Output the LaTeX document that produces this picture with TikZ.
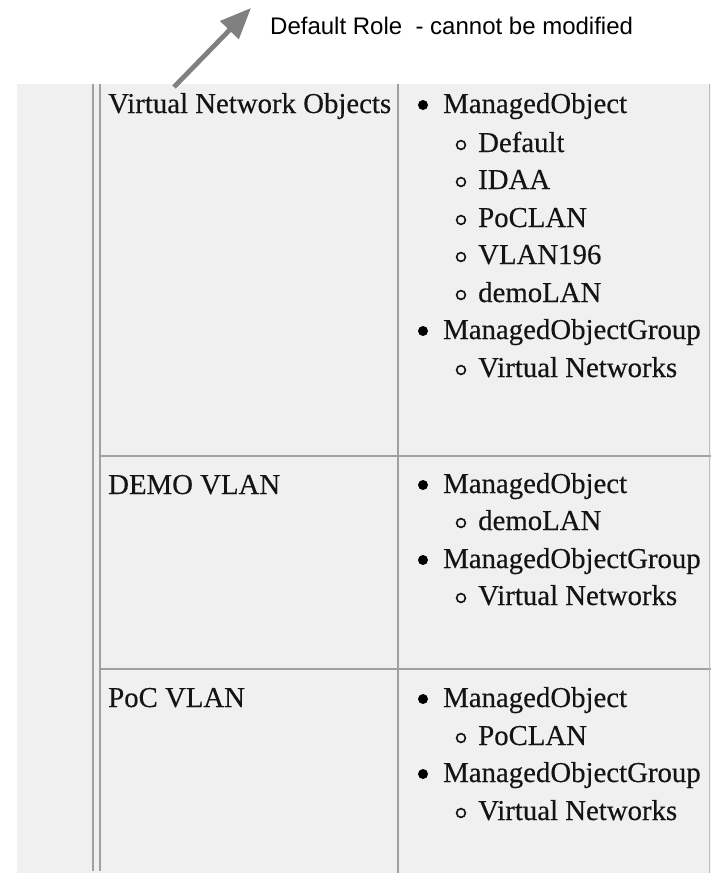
\documentclass[tikz,border=0pt]{standalone}
\usepackage{fontspec}
\setmainfont{Liberation Serif}[FakeBold=0.35]
\newfontfamily\labelsans{Liberation Sans}
\usetikzlibrary{arrows.meta}
\definecolor{bgray}{HTML}{F0F0F0}
\definecolor{rulegray}{HTML}{A0A0A0}
\definecolor{arrowgray}{HTML}{808080}
\definecolor{txt}{HTML}{141414}
\tikzset{
  celltext/.style={anchor=base west, inner sep=0pt, text=txt, font=\fontsize{28.8}{34}\selectfont},
  labeltext/.style={anchor=base west, inner sep=0pt, text=black, font=\labelsans\fontsize{24}{28}\selectfont},
  rule/.style={draw=rulegray, line width=2pt},
  dotbullet/.style={fill=black, draw=none},
  ringbullet/.style={draw=txt, line width=1.6pt, fill=none},
  pointer/.style={draw=arrowgray, line width=4.8pt, -{Triangle[length=31pt,width=25pt]}}
}
\newcommand{\parentitem}[3]{% name, y-baseline, text
  \fill[dotbullet] (423,#2-8) circle (5pt);
  \node[celltext] (#1) at (443,#2) {#3};}
\newcommand{\childitem}[3]{%
  \draw[ringbullet] (461,#2-7) circle (4.4pt);
  \node[celltext] (#1) at (478,#2) {#3};}
\begin{document}
\begin{tikzpicture}[x=1pt,y=-1pt]
\useasboundingbox (0,0) rectangle (711,873);
\fill[white] (0,0) rectangle (711,873);
\fill[bgray] (17,84) rectangle (711,873);
% table rules
\draw[rule] (93,84) -- (93,871);
\draw[rule] (100,84) -- (100,871);
\draw[rule] (398,84) -- (398,873);
\draw[rule] (100,456) -- (711,456);
\draw[rule] (100,669) -- (711,669);
\draw[draw=rulegray!70, line width=1.5pt] (709.5,84) -- (709.5,873);
% left column
\node[celltext] (vno) at (108,113) {Virtual Network Objects};
\node[celltext] (demo) at (108,494) {DEMO VLAN};
\node[celltext] (poc) at (108,707) {PoC VLAN};
% row 1
\parentitem{mo1}{113}{ManagedObject}
\childitem{s11}{152}{Default}
\childitem{s12}{189}{IDAA}
\childitem{s13}{227}{PoCLAN}
\childitem{s14}{264}{VLAN196}
\childitem{s15}{302}{demoLAN}
\parentitem{mog1}{339}{ManagedObjectGroup}
\childitem{s16}{377}{Virtual Networks}
% row 2
\parentitem{mo2}{493}{ManagedObject}
\childitem{s21}{530}{demoLAN}
\parentitem{mog2}{568}{ManagedObjectGroup}
\childitem{s22}{605}{Virtual Networks}
% row 3
\parentitem{mo3}{707}{ManagedObject}
\childitem{s31}{745}{PoCLAN}
\parentitem{mog3}{782}{ManagedObjectGroup}
\childitem{s32}{820}{Virtual Networks}
% annotation
\node[labeltext] (lbl) at (270,34) {Default Role\ \ - cannot be modified};
\coordinate (tail) at (174,87);
\coordinate (tip) at (251,8);
\draw[pointer] (tail) -- (tip);
\end{tikzpicture}
\end{document}
